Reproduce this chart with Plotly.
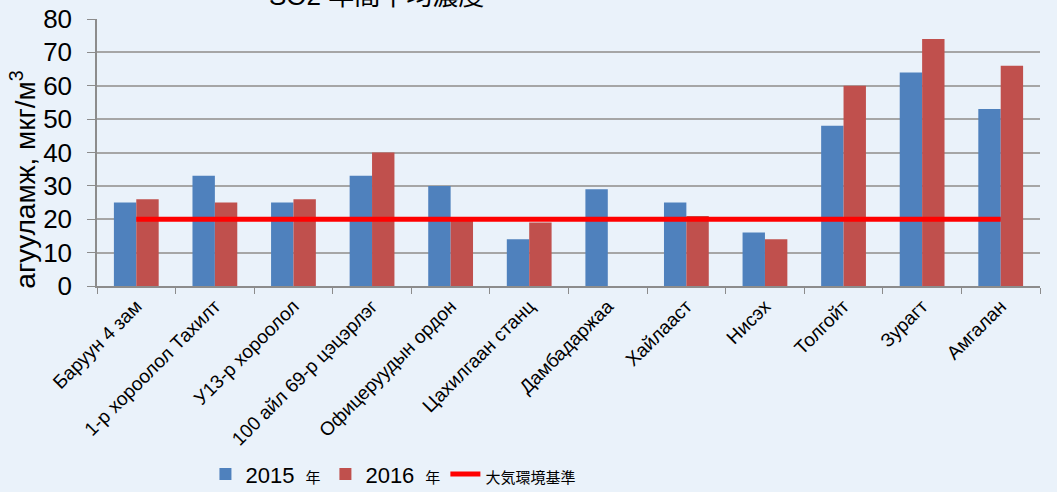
import plotly.graph_objects as go

# monitoring stations (Ulaanbaatar)
stations = [
    "Баруун 4 зам", "1-р хороолол Тахилт", "У13-р хороолол",
    "100 айл 69-р цэцэрлэг", "Офицеруудын ордон", "Цахилгаан станц",
    "Дамбадаржаа", "Хайлааст", "Нисэх", "Толгойт", "Зурагт", "Амгалан",
]
so2_2015 = [25, 33, 25, 33, 30, 14, 29, 25, 16, 48, 64, 53]
so2_2016 = [26, 25, 26, 40, 20, 19, None, 21, 14, 60, 74, 66]
standard = [20] * len(stations)

FONT = "Liberation Sans, Arial, Noto Sans CJK JP, sans-serif"
NEN = "\u2002<span style='font-size:15px'>年</span>"

fig = go.Figure()
fig.add_trace(go.Bar(
    name="2015" + NEN, x=stations, y=so2_2015,
    marker_color="#4f81bd", marker_line_width=0,
))
fig.add_trace(go.Bar(
    name="2016" + NEN, x=stations, y=so2_2016,
    marker_color="#c0504d", marker_line_width=0,
))
fig.add_trace(go.Scatter(
    name="<span style='font-size:15px'>大気環境基準</span>",
    x=stations, y=standard, mode="lines",
    line=dict(color="#ff0000", width=5),
))

# title is mostly cut off at the top edge in the source image
fig.add_annotation(
    text="SO2 年間平均濃度", xref="paper", yref="paper",
    x=0.296, y=1, xanchor="center", yanchor="middle", yshift=23,
    showarrow=False,
    font=dict(size=26, color="#000000", family=FONT),
)
# y axis title, placed by hand (sits lower than the plot centre)
fig.add_annotation(
    text="агууламж, мкг/м<sup>3</sup>", xref="paper", yref="paper",
    x=-0.078, y=0.4, xanchor="center", yanchor="middle",
    textangle=-90, showarrow=False,
    font=dict(size=28, color="#000000", family=FONT),
)

fig.update_layout(
    width=1057, height=492,
    margin=dict(l=97, r=17, t=19, b=206, autoexpand=False),
    paper_bgcolor="#eaf2fa",
    plot_bgcolor="rgba(0,0,0,0)",
    barmode="group",
    bargap=0.43,
    bargroupgap=0,
    font=dict(family=FONT, color="#000000"),
    showlegend=True,
    legend=dict(
        orientation="h", x=0.115, y=-0.705, xanchor="left", yanchor="middle",
        font=dict(size=22, family=FONT), bgcolor="rgba(0,0,0,0)",
        traceorder="normal", itemwidth=30,
    ),
    xaxis=dict(
        tickangle=-45, tickfont=dict(size=19), automargin=False,
        showline=True, linecolor="#8c8c8c", linewidth=1.5,
        ticks="outside", tickcolor="#8c8c8c", ticklen=6,
        tickson="boundaries", showgrid=False,
    ),
    yaxis=dict(
        range=[0, 80], dtick=10, tickfont=dict(size=26), automargin=False,
        ticklabelstandoff=10,
        showline=True, linecolor="#8c8c8c", linewidth=1.5,
        ticks="outside", tickcolor="#8c8c8c", ticklen=8,
        gridcolor="#a6a6a6", gridwidth=1.5, zeroline=False,
    ),
)

fig.write_html(
    "out.html",
    config={"displayModeBar": False},
    post_script="document.body.style.margin='0';"
                "Plotly.relayout(document.getElementById('{plot_id}'),"
                " {width: 1057, height: 492});",
)
